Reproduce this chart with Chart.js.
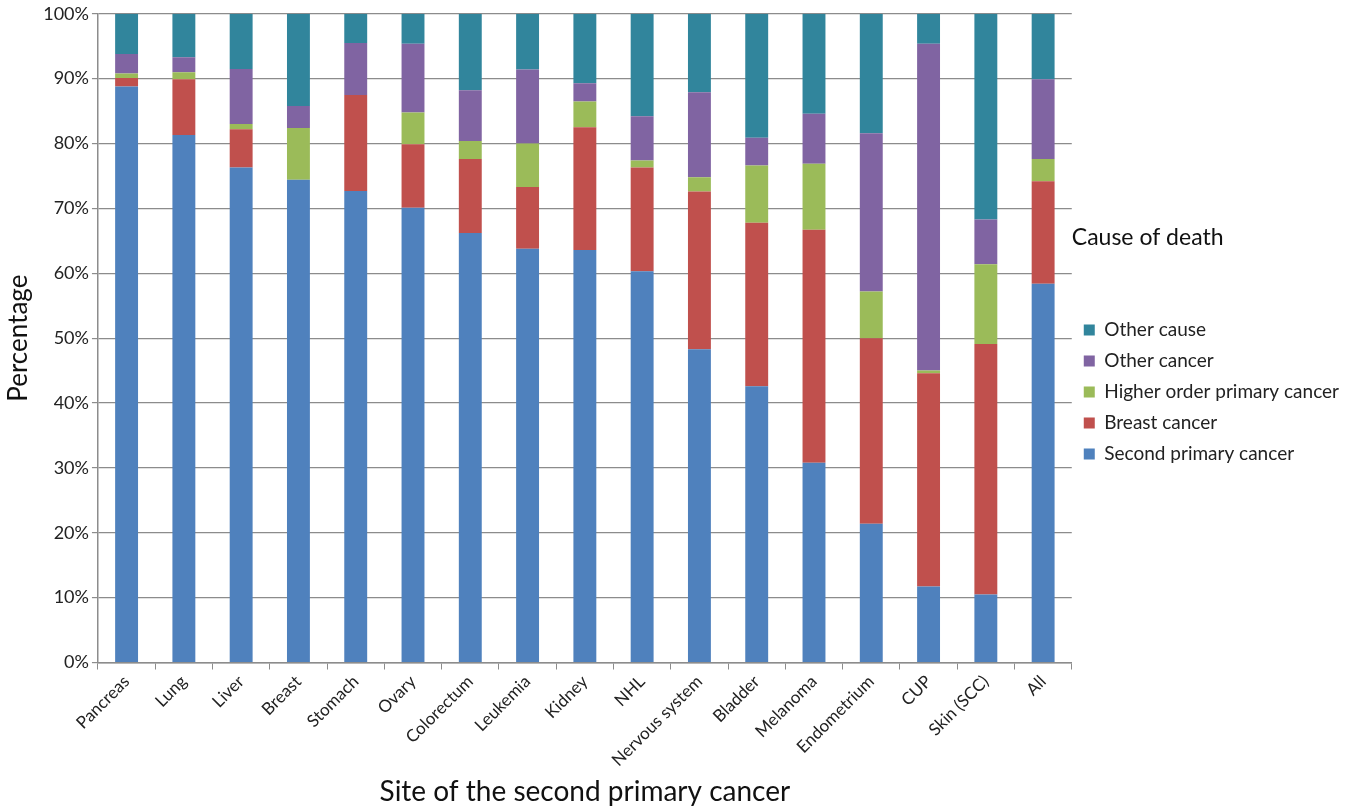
<!DOCTYPE html>
<html>
<head>
<meta charset="utf-8">
<script src="https://cdn.jsdelivr.net/npm/chart.js@4"></script>
<style>
  html, body { margin: 0; padding: 0; background: #fff; }
  #wrap { width: 1355px; height: 811px; }
</style>
</head>
<body>
<div id="wrap"><canvas id="chart1"></canvas></div>
<script>
// sites of the second primary cancer
const sites = ["Pancreas", "Lung", "Liver", "Breast", "Stomach", "Ovary", "Colorectum", "Leukemia",
    "Kidney", "NHL", "Nervous system", "Bladder", "Melanoma", "Endometrium", "CUP", "Skin (SCC)", "All"]

// percentage of deaths per cause
const secondPrimary = [88.8, 81.3, 76.3, 74.4, 72.7, 70.1, 66.2, 63.8, 63.6, 60.3, 48.3, 42.6, 30.8, 21.4, 11.7, 10.5, 58.4]
const breastCancer  = [1.3, 8.6, 5.9, 0, 14.8, 9.8, 11.4, 9.5, 18.9, 16.0, 24.3, 25.2, 35.9, 28.6, 32.9, 38.6, 15.8]
const higherOrder   = [0.7, 1.1, 0.8, 8.0, 0, 4.9, 2.8, 6.7, 4.0, 1.1, 2.2, 8.8, 10.2, 7.2, 0.4, 12.3, 3.4]
const otherCancer   = [3.0, 2.3, 8.5, 3.4, 8.0, 10.6, 7.8, 11.4, 2.8, 6.8, 13.1, 4.3, 7.7, 24.4, 50.4, 6.9, 12.3]
const otherCause    = [6.2, 6.7, 8.5, 14.2, 4.5, 4.6, 11.8, 8.6, 10.7, 15.8, 12.1, 19.1, 15.4, 18.4, 4.6, 31.7, 10.1]

const yTicks = [0, 10, 20, 30, 40, 50, 60, 70, 80, 90, 100]

const font = "Lato, 'Open Sans', sans-serif"
const gridColor = "#8c8c8c"

const datasets = [
    { label: "Second primary cancer", data: secondPrimary, backgroundColor: "#4F81BD" },
    { label: "Breast cancer", data: breastCancer, backgroundColor: "#C0504D" },
    { label: "Higher order primary cancer", data: higherOrder, backgroundColor: "#9BBB59" },
    { label: "Other cancer", data: otherCancer, backgroundColor: "#8064A2" },
    { label: "Other cause", data: otherCause, backgroundColor: "#31859C" },
]
for (const d of datasets) {
    d.barPercentage = 0.4
    d.categoryPercentage = 1.0
    d.borderWidth = 0
}

const chart = {
    type: "bar",
    data: { labels: sites, datasets: datasets },
    options: {
        responsive: false,
        animation: false,
        layout: { padding: { left: 3, right: 6, top: 12, bottom: 2 } },
        scales: {
            x: {
                stacked: true,
                grid: {
                    offset: true,
                    drawOnChartArea: false,
                    drawTicks: true,
                    tickLength: 7,
                    color: gridColor,
                },
                border: { color: gridColor, width: 1.5 },
                ticks: {
                    color: "#222",
                    font: { family: font, size: 17 },
                    minRotation: 45,
                    maxRotation: 45,
                    padding: 2,
                },
                title: {
                    display: true,
                    text: "Site of the second primary cancer",
                    color: "#111",
                    font: { family: font, size: 28 },
                    padding: { top: 3, bottom: 0 },
                },
            },
            y: {
                stacked: true,
                min: 0,
                max: 100,
                afterBuildTicks: (axis) => { axis.ticks = yTicks.map(v => ({ value: v })) },
                grid: {
                    color: gridColor,
                    lineWidth: 1.2,
                    tickLength: 6,
                },
                border: { color: gridColor, width: 1.5 },
                ticks: {
                    color: "#222",
                    font: { family: font, size: 18 },
                    padding: 3,
                    callback: (v) => v + "%",
                },
                title: {
                    display: true,
                    text: "Percentage",
                    color: "#111",
                    font: { family: font, size: 26 },
                    padding: { top: 0, bottom: 6 },
                },
            },
        },
        plugins: {
            legend: {
                position: "right",
                reverse: true,
                align: "start",
                title: {
                    display: true,
                    text: "Cause of death",
                    color: "#111",
                    position: "start",
                    font: { family: font, size: 23 },
                    padding: { top: 214, bottom: 55 },
                },
                labels: {
                    color: "#222",
                    boxWidth: 11,
                    boxHeight: 11,
                    padding: 12,
                    font: { family: font, size: 19 },
                },
            },
            tooltip: { enabled: false },
        },
    },
}

const cv = document.getElementById("chart1")
cv.width = 1355
cv.height = 811
new Chart(cv.getContext("2d"), chart)
</script>
</body>
</html>
